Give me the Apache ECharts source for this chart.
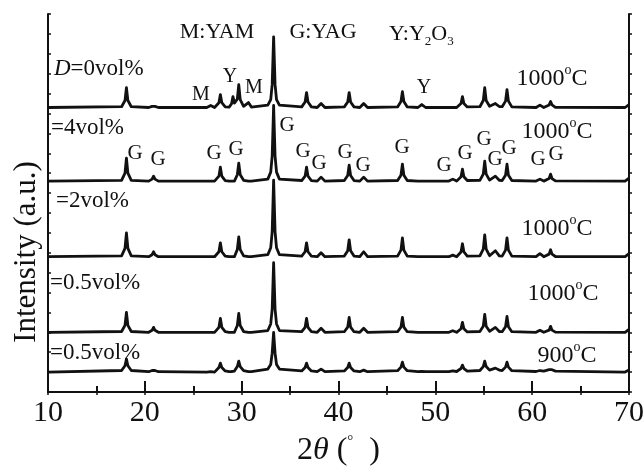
<!DOCTYPE html>
<html><head><meta charset="utf-8">
<script src="https://cdn.jsdelivr.net/npm/echarts@6/dist/echarts.min.js"></script>
<style>html,body{margin:0;padding:0;background:#fff}#c{width:644px;height:468px}</style>
</head><body><div id="c"></div>
<script>
// 2θ sampling points (deg)
const twoTheta = [10,
 17.6,17.95,18.1,18.25,18.6,
 20.4,20.75,20.9,21.05,21.4,
 26.4,26.8,27.2,
 27.3,27.65,27.8,27.95,28.3,
 28.7,28.95,29.1,29.25,29.4,29.55,29.7,29.85,30.2,
 30.4,30.7,31.0,
 32.7,33.0,33.15,33.3,33.45,33.6,33.9,
 36.2,36.55,36.7,36.85,37.2,
 37.8,38.2,38.6,
 40.6,40.95,41.1,41.25,41.6,
 42.2,42.6,43.0,
 46.1,46.45,46.6,46.75,47.1,
 48.2,48.6,49.0,
 51.4,51.8,52.2,
 52.3,52.65,52.8,52.95,53.3,
 54.6,54.95,55.1,55.25,55.6,
 55.8,56.2,56.6,
 56.9,57.25,57.4,57.55,57.9,
 60.4,60.8,61.2,
 61.4,61.75,61.9,62.05,62.4,
 69.6,70];

// Intensities (a.u., offset/stacked as in the figure)
const int_D0_1000 = [143,
 143.4,146.5,153,146.5,143.4,
 143,143.6,144.5,143.6,143,
 143,144,143,
 143.3,145.4,149.5,145.4,143.3,
 143.2,144.8,148.5,145.2,144.8,147.2,154.5,147,143.6,
 143.2,145.5,143.2,
 144.2,147,154.5,178.5,154.5,147,144.2,
 143.3,145.8,150.5,145.8,143.3,
 143,145,143,
 143.3,145.8,150.5,145.8,143.3,
 143,145,143,
 143.3,146,151,146,143.3,
 143,144.5,143,
 143,143,143,
 143.3,145,148.5,145,143.3,
 143.4,146.5,153,146.5,143.6,
 143.5,145,143.5,
 143.4,146.2,152,146.2,143.3,
 143,144.2,143,
 143.1,144.3,146,144.3,143.1,
 143,144.5];

const int_D4_1000 = [106,
 106.4,110,117.5,110,106.4,
 106,107,108.5,107,106,
 106,106,106,
 106.3,108.5,113,108.5,106.3,
 106,106,106,106,106.4,109.2,115,109.2,106.4,
 106,106,106,
 107,110.5,118.5,144,118.5,110.5,107,
 106.3,108.5,113,108.5,106.3,
 106,108,106,
 106.3,108.8,114,108.8,106.3,
 106,108,106,
 106.3,109,114.5,109,106.3,
 106,106,106,
 106,107,106,
 106.3,108.2,112,108.2,106.3,
 106.4,109.5,116,109.5,106.5,
 106.4,108.5,106.4,
 106.3,109,114.5,109,106.3,
 106,107,106,
 106.1,107.3,109.5,107.3,106.1,
 106,107.5];

const int_D2_1000 = [68,
 68.4,72.2,80,72.2,68.4,
 68,69,70.5,69,68,
 68,68,68,
 68.3,70.5,75,70.5,68.3,
 68,68,68,68,68.4,71.6,78,71.6,68.4,
 68,68,68,
 69,72.5,80.5,106.5,80.5,72.5,69,
 68.3,70.5,75,70.5,68.3,
 68,70,68,
 68.3,71,76.5,71,68.3,
 68,70.5,68,
 68.3,71.3,77.5,71.3,68.3,
 68,68,68,
 68,68.8,68,
 68.3,70.4,74.5,70.4,68.3,
 68.4,71.8,79,71.8,68.5,
 68.4,71,68.4,
 68.3,71.3,77.5,71.3,68.3,
 68,69.5,68,
 68.1,69.3,71.5,69.3,68.1,
 68,69.5];

const int_D05_1000 = [30,
 30.4,33.5,40,33.5,30.4,
 30,31,32.5,31,30,
 30,30,30,
 30.3,32.5,37,32.5,30.3,
 30,30,30,30,30.4,33.4,39.5,33.4,30.4,
 30,30,30,
 30.9,34.2,41.5,65,41.5,34.2,30.9,
 30.3,32.5,37,32.5,30.3,
 30,32,30,
 30.3,32.6,37.5,32.6,30.3,
 30,32,30,
 30.3,32.6,37.5,32.6,30.3,
 30,30,30,
 30,30.8,30,
 30.2,31.8,35,31.8,30.2,
 30.4,33.1,39,33.1,30.5,
 30.4,32.5,30.4,
 30.3,32.8,38,32.8,30.3,
 30,31,30,
 30.1,31.1,33,31.1,30.1,
 30,31.5];

const int_D05_900 = [10,
 10.8,13.2,16.5,13.2,10.8,
 10.2,10.8,11.2,10.8,10.2,
 10,10.2,10,
 10.6,12.3,14.5,12.3,10.6,
 10.2,10.3,10.4,10.5,11,12.8,15.5,12.8,10.7,
 10.2,10.2,10.2,
 11.5,13.8,19.5,30,19.5,13.8,11.5,
 10.6,12.3,14.5,12.3,10.6,
 10.2,11.5,10.2,
 10.6,12.3,14.5,12.3,10.6,
 10.2,11,10.2,
 10.7,12.5,15,12.5,10.7,
 10.2,10.4,10.2,
 10.2,10.6,10.3,
 10.5,11.8,13.5,11.8,10.5,
 10.8,12.8,15.5,12.8,11,
 11,12,11,
 10.8,12.5,15,12.5,10.7,
 10.3,10.8,10.5,
 10.6,11.2,12,11.2,10.5,
 10,11];

const xTicks = [10,20,30,40,50,60,70];
const seriesList = [int_D0_1000,int_D4_1000,int_D2_1000,int_D05_1000,int_D05_900];

const FONT = 'Liberation Serif';
const chart = echarts.init(document.getElementById('c'));

function txt(x, y, text, size, align, rich) {
  return { type:'text', x:x, y:y, z:100,
    style:{ text:text, fontFamily:FONT, fontSize:size, fill:'#111',
      textAlign:align||'center', textVerticalAlign:'middle', rich:rich||undefined } };
}
const baseRich = (s)=>({
  n:{fontFamily:FONT,fontSize:s,color:'#111',lineHeight:s+2,verticalAlign:'bottom'},
  i:{fontFamily:FONT,fontSize:s,color:'#111',fontStyle:'italic',lineHeight:s+2,verticalAlign:'bottom'},
  sup:{fontFamily:FONT,fontSize:14,color:'#111',lineHeight:s+4,verticalAlign:'top',padding:[0,0,s-4,0]},
  sub:{fontFamily:FONT,fontSize:13,color:'#111',lineHeight:13,padding:[s-4,0,0,0]}
});
const tempLabel = (x,y,t)=>txt(x,y,'{n|'+t+'}{sup|o}{n|C}',24,'center',baseRich(24));
const G = (x,y)=>txt(x,y,'G',21);

const graphics = [
  txt(217,32,'M:YAM',22),
  txt(323,32,'G:YAG',22),
  txt(389,33,'{n|Y:Y}{sub|2}{n|O}{sub|3}',22,'left',baseRich(22)),
  txt(54,68,'{i|D}{n|=0vol%}',23,'left',baseRich(23)),
  txt(201,95,'M',20), txt(230,77,'Y',20), txt(254,88,'M',20), txt(424,88,'Y',20),
  tempLabel(552,77,'1000'),
  txt(51,128,'=4vol%',23,'left'),
  tempLabel(557,130,'1000'),
  G(135,153),G(158,159),G(214,153),G(236,149),G(287,125),G(303,151),G(319,163),G(345,152),
  G(363,165),G(402,147),G(444,165),G(465,153),G(484,139),G(495,159),G(509,148),G(538,159),G(556,154),
  txt(56,201,'=2vol%',23,'left'),
  tempLabel(557,227,'1000'),
  txt(50,283,'=0.5vol%',23,'left'),
  tempLabel(563,292,'1000'),
  txt(50,353,'=0.5vol%',23,'left'),
  tempLabel(567,354,'900'),
  { type:'text', x:27, y:252, rotation:Math.PI/2, z:100,
    style:{ text:'Intensity (a.u.)', fontFamily:FONT, fontSize:31, fill:'#111',
      textAlign:'center', textVerticalAlign:'middle' } }
];

const axisLineStyle = {color:'#111', width:2};
chart.setOption({
  animation:false,
  backgroundColor:'#fff',
  grid:{left:48,right:15,top:14,bottom:76,containLabel:false,outerBoundsMode:'none'},
  xAxis:[{
    type:'value', min:xTicks[0], max:xTicks[xTicks.length-1], interval:10, position:'bottom',
    axisLine:{lineStyle:axisLineStyle},
    axisTick:{inside:true,length:11,lineStyle:{color:'#111',width:2}},
    minorTick:{show:true,splitNumber:2,length:6,lineStyle:{color:'#111',width:2}},
    splitLine:{show:false},
    axisLabel:{fontFamily:FONT,fontSize:30,color:'#111',margin:6},
    name:'{n|2}{i|θ}{n| (}{s|°}{n|  )}', nameLocation:'middle', nameGap:42,
    nameTextStyle:{rich:{
      n:{fontFamily:FONT,fontSize:32,color:'#111'},
      i:{fontFamily:FONT,fontSize:32,color:'#111',fontStyle:'italic'},
      s:{fontFamily:FONT,fontSize:15,color:'#111',verticalAlign:'top',lineHeight:34}
    }}
  },{
    type:'value', min:xTicks[0], max:xTicks[xTicks.length-1], interval:5, position:'top',
    axisLine:{lineStyle:axisLineStyle},
    axisTick:{inside:true,length:3,lineStyle:{color:'#111',width:1.5}},
    axisLabel:{show:false}, splitLine:{show:false}
  }],
  yAxis:[{
    type:'value', min:0, max:190, interval:10, position:'left',
    axisLine:{show:true,lineStyle:axisLineStyle},
    axisTick:{show:true,inside:true,length:3,lineStyle:{color:'#111',width:1.5}},
    axisLabel:{show:false}, splitLine:{show:false}
  },{
    type:'value', min:0, max:190, interval:10, position:'right',
    axisLine:{show:true,lineStyle:axisLineStyle},
    axisTick:{show:true,inside:false,length:3,lineStyle:{color:'#111',width:1.5}},
    axisLabel:{show:false}, splitLine:{show:false}
  }],
  series: seriesList.map(arr=>({
    type:'line', xAxisIndex:0, yAxisIndex:0, showSymbol:false, symbol:'none',
    lineStyle:{color:'#111',width:2.8,join:'round'}, smooth:false,
    data: twoTheta.map((x,i)=>[x,arr[i]])
  })),
  graphic: graphics
});
</script></body></html>
